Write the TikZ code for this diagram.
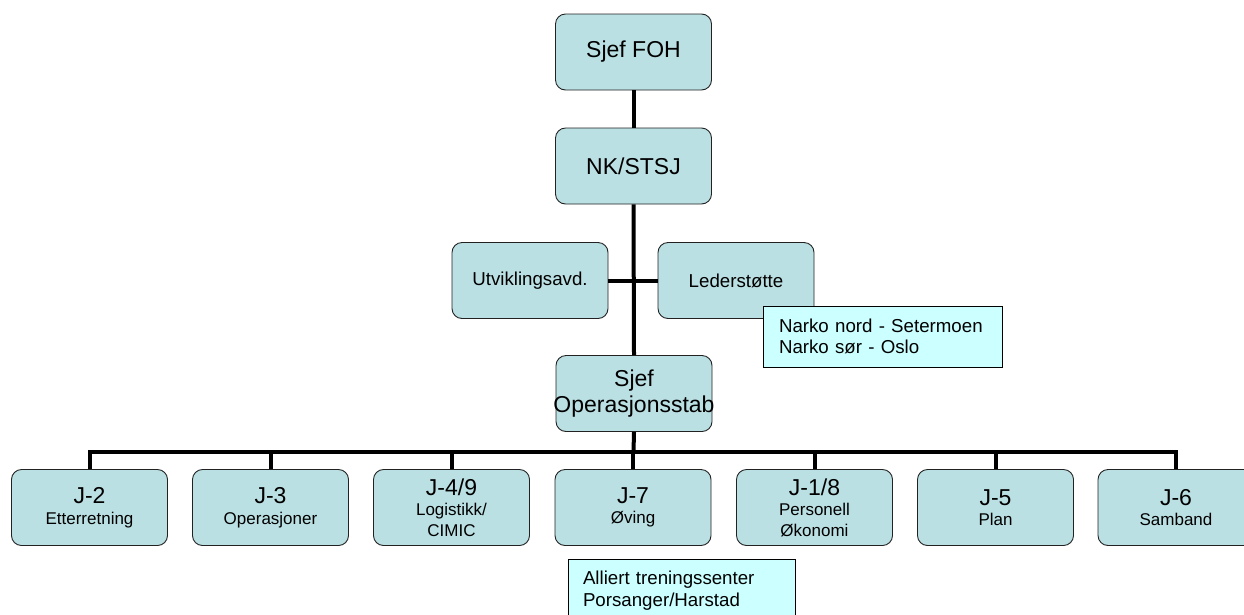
\documentclass[tikz,border=0pt]{standalone}
\usepackage{fontspec}
\setmainfont{Liberation Sans}
\definecolor{boxfill}{HTML}{BBE0E3}
\definecolor{notefill}{HTML}{CCFFFF}
\definecolor{boxline}{HTML}{222222}
\begin{document}
\begin{tikzpicture}[x=1pt,y=-1pt,
  unit/.style={draw=boxline, fill=boxfill, rounded corners=10pt, minimum width=156pt,
    minimum height=76pt, inner sep=0pt, align=center, line width=0.9pt},
  bigbox/.style={unit, font=\fontsize{23}{26}\selectfont},
  midbox/.style={unit, font=\fontsize{18.7}{22}\selectfont},
  jbox/.style={unit, font=\fontsize{17}{20.5}\selectfont},
  note/.style={draw=black, fill=notefill, inner ysep=0pt, align=left,
    font=\fontsize{18.7}{21.5}\selectfont, line width=0.9pt},
  link/.style={line width=4pt}]
\useasboundingbox (0,0) rectangle (1244,614);
\clip (0,0) rectangle (1244,614);
\newcommand{\jl}[1]{{\fontsize{23}{26}\selectfont #1}}
% nodes
\node[bigbox] (foh) at (633.5,52) {Sjef FOH};
\node[bigbox] (nk) at (633.5,166) {NK/STSJ};
\node[midbox] (utv) at (530,280.5) {Utviklingsavd.};
\node[midbox] (led) at (736,280.5) {Lederstøtte};
\node[note, minimum width=239pt, minimum height=61pt, text width=207pt, inner xsep=16pt] (narko) at (882.5,336.5)
  {Narko nord - Setermoen\\Narko sør - Oslo};
\node[bigbox] (sop) at (634,393.5) {Sjef\\\makebox[140pt][c]{Operasjonsstab}};
\node[jbox] (j2) at (89.5,507.5) {\jl{J-2}\\Etterretning};
\node[jbox] (j3) at (270.5,507.5) {\jl{J-3}\\Operasjoner};
\node[jbox] (j4) at (451.5,507.5) {\jl{J-4/9}\\Logistikk/\\CIMIC};
\node[jbox] (j7) at (633,507.5) {\jl{J-7}\\Øving};
\node[jbox] (j1) at (814.5,507.5) {\jl{J-1/8}\\Personell\\Økonomi};
\node[jbox] (j5) at (995.5,507.5) {\jl{J-5}\\Plan};
\node[jbox] (j6) at (1176,507.5) {\jl{J-6}\\Samband};
\node[note, minimum width=227pt, minimum height=63pt, text width=197pt, inner xsep=15pt] (all) at (681.5,590.5)
  {Alliert treningssenter\\Porsanger/Harstad};
% connectors
\coordinate (bus) at (633.5,452);
\draw[link] (foh.south) -- (nk.north);
\draw[link] (nk.south) -- (sop.north);
\draw[link] (sop.south) -- (bus);
\draw[link] (utv.east) -- (led.west);
\draw[link] (j2.north) |- (bus) -| (j6.north);
\foreach \n in {j3,j4,j7,j1,j5} \draw[link] (\n.north) -- (\n.north |- bus);
\end{tikzpicture}
\end{document}
